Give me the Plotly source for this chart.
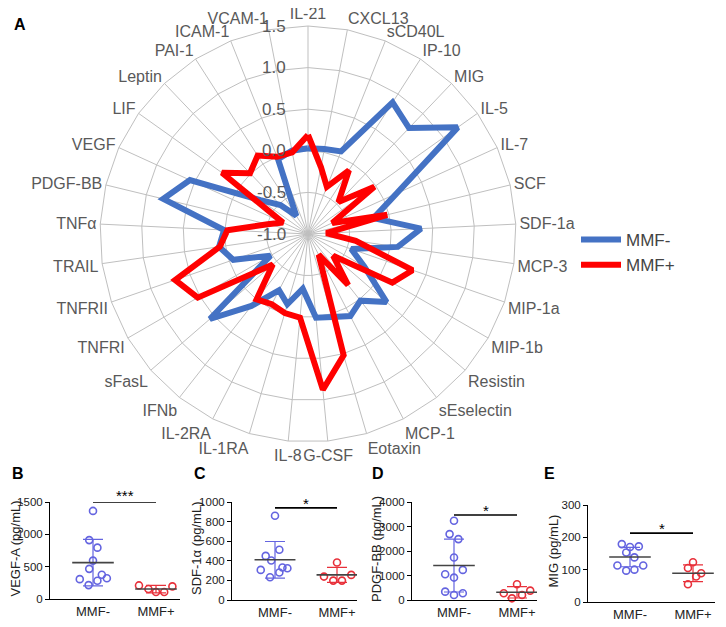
import plotly.graph_objects as go

# ---------------- data ----------------
cytokines = ["IL-21", "CXCL13", "sCD40L", "IP-10", "MIG", "IL-5", "IL-7", "SCF",
             "SDF-1a", "MCP-3", "MIP-1a", "MIP-1b", "Resistin", "sEselectin",
             "MCP-1", "Eotaxin", "G-CSF", "IL-8", "IL-1RA", "IL-2RA", "IFNb",
             "sFasL", "TNFRI", "TNFRII", "TRAIL", "TNFα", "PDGF-BB", "VEGF",
             "LIF", "Leptin", "PAI-1", "ICAM-1", "VCAM-1"]
radar_mmf_minus = [0.03, 0.04, 0.07, 0.88, 0.76, 1.21, 0.17, -0.19, 0.36, 0.09,
                   -0.45, -0.22, 0.25, 0.02, 0.11, 0.04, 0.01, -0.34, -0.12,
                   -0.24, 0.10, 0.56, -0.48, -0.05, 0.08, 0.01, 0.79, 0.56,
                   -0.30, -0.52, -0.74, -0.03, 0.02]
radar_mmf_plus = [0.19, -0.18, -0.39, -0.09, -0.47, -0.02, -0.68, -0.02, -0.78,
                  -0.42, 0.33, 0.17, -0.60, -0.22, -0.72, 0.52, 0.88, 0.01,
                  -0.01, -0.05, 0.00, -0.44, 0.53, 0.69, 0.07, -0.03, -0.50,
                  -0.67, 0.27, 0.01, 0.12, 0.00, 0.00]
radial_range = [-1.0, 1.5]
radial_ticks = [-1.0, -0.5, 0.0, 0.5, 1.0, 1.5]
radial_tick_labels = ["-1.0", "-0.5", "0.0", "0.5", "1.0", "1.5"]

groups = ["MMF-", "MMF+"]

vegf_minus = [1362, 911, 794, 594, 466, 374, 322, 307, 282, 215]
vegf_plus = [210, 154, 108, 108, 195]
vegf_mean = [563, 154]
vegf_sd = [360, 58]

sdf_minus = [860, 512, 450, 403, 331, 324, 307, 280, 232]
sdf_plus = [382, 239, 198, 198, 256]
sdf_mean = [410, 256]
sdf_sd = [187, 76]

pdgf_minus = [3235, 2690, 2485, 1734, 1229, 1051, 915, 341, 205, 273]
pdgf_plus = [642, 273, 382, 205, 68]
pdgf_mean = [1406, 314]
pdgf_sd = [1080, 232]

mig_minus = [179, 170, 172, 153, 138, 113, 113, 97, 100]
mig_plus = [123, 105, 89, 79, 55]
mig_mean = [139, 89]
mig_sd = [30, 26]

# ---------------- styling / layout helpers ----------------
PAGE_W, PAGE_H = 726, 627
OFF = 8                      # default page margin around the plot div
W, H = PAGE_W - OFF, PAGE_H - OFF
FONT = "Arial, Liberation Sans, sans-serif"
BLUE = "#4472C4"
RED = "#FF0000"
DOT_BLUE = "#6464E0"
DOT_RED = "#E8303A"


def fx(px):  # page pixel x -> paper fraction
    return (px - OFF) / W


def fy(py):  # page pixel y -> paper fraction
    return 1 - (py - OFF) / H


# horizontal jitter of the dots
jit_vegf = ([0.0, -0.06, 0.07, 0.0, -0.06, 0.14, 0.22, -0.21, 0.07, -0.07],
            [-0.27, -0.12, 0.0, 0.13, 0.26])
jit_sdf = ([0.0, 0.07, -0.15, -0.06, 0.12, 0.2, -0.23, 0.07, -0.08],
           [0.0, -0.21, -0.06, 0.08, 0.23])
jit_pdgf = ([0.0, -0.07, 0.07, 0.0, 0.14, -0.14, 0.0, -0.14, 0.0, 0.14],
            [0.0, -0.21, 0.21, 0.08, -0.08])
jit_mig = ([-0.13, 0.0, 0.14, -0.06, 0.07, -0.2, 0.21, -0.06, 0.07],
           [0.0, -0.08, 0.13, 0.05, -0.08])

fig = go.Figure()

# ---------------- radar (panel A) ----------------
theta_closed = cytokines + [cytokines[0]]
fig.add_trace(go.Scatterpolar(
    r=radar_mmf_minus + [radar_mmf_minus[0]], theta=theta_closed,
    mode="lines", name="MMF-", line=dict(color=BLUE, width=6),
    subplot="polar"))
fig.add_trace(go.Scatterpolar(
    r=radar_mmf_plus + [radar_mmf_plus[0]], theta=theta_closed,
    mode="lines", name="MMF+", line=dict(color=RED, width=6),
    subplot="polar"))

cx, cy, R = 308, 234, 208
fig.update_layout(polar=dict(
    domain=dict(x=[fx(cx - R), fx(cx + R)], y=[fy(cy + R), fy(cy - R)]),
    gridshape="linear",
    bgcolor="white",
    radialaxis=dict(range=radial_range, tickvals=radial_ticks,
                    showticklabels=False, angle=90,
                    showline=False, ticks="",
                    gridcolor="#BFBFBF", gridwidth=1),
    angularaxis=dict(direction="clockwise", rotation=90, type="category",
                     categoryarray=cytokines,
                     gridcolor="#BFBFBF", gridwidth=1, showline=True,
                     linecolor="#BFBFBF", linewidth=1, ticks="",
                     tickfont=dict(size=16, color="#595959", family=FONT)),
))

annotations = [dict(text="<b>A</b>", x=fx(20), y=fy(25), xref="paper", yref="paper",
                    xanchor="center", yanchor="middle",
                    showarrow=False, font=dict(size=16, family=FONT, color="black"))]

# radial tick labels, left of the vertical axis, centred on each ring
span = radial_range[1] - radial_range[0]
for v, lab in zip(radial_ticks, radial_tick_labels):
    ring_y = cy - (v - radial_range[0]) / span * R
    annotations.append(dict(text=lab, x=fx(cx - 20), y=fy(ring_y), xref="paper",
                            yref="paper", xanchor="right", yanchor="middle",
                            showarrow=False,
                            font=dict(size=17, color="#595959", family=FONT)))

# ---------------- scatter panels B-E ----------------
panels = [
    dict(minus=vegf_minus, plus=vegf_plus, mean=vegf_mean, sd=vegf_sd, jit=jit_vegf,
         title="VEGF-A (pg/mL)", yrange=[0, 1500], dtick=500, sig=1500, stars="***",
         px=(50, 180), cxs=(93, 156), py=(599, 502), letter="B", lx=18,
         tx=15, star_y=495),
    dict(minus=sdf_minus, plus=sdf_plus, mean=sdf_mean, sd=sdf_sd, jit=jit_sdf,
         title="SDF-1α (pg/mL)", yrange=[0, 1000], dtick=200, sig=940, stars="*",
         px=(232, 357), cxs=(275, 337), py=(600, 502), letter="C", lx=200,
         tx=196, star_y=503),
    dict(minus=pdgf_minus, plus=pdgf_plus, mean=pdgf_mean, sd=pdgf_sd, jit=jit_pdgf,
         title="PDGF-BB (pg/mL)", yrange=[0, 4000], dtick=1000, sig=3470, stars="*",
         px=(412, 537), cxs=(454, 517), py=(600, 502), letter="D", lx=378,
         tx=376, star_y=510),
    dict(minus=mig_minus, plus=mig_plus, mean=mig_mean, sd=mig_sd, jit=jit_mig,
         title="MIG (pg/mL)", yrange=[0, 300], dtick=100, sig=213, stars="*",
         px=(588, 715), cxs=(630, 693), py=(602, 505), letter="E", lx=549,
         tx=553, star_y=528),
]

for i, p in enumerate(panels):
    k = i + 2
    xa, ya = f"x{k}", f"y{k}"
    x0px, x1px = p["px"]
    c0, c1 = p["cxs"]
    unit = (c1 - c0)
    xr = [(x0px - c0) / unit, (x1px - c0) / unit]
    ybot, ytop = p["py"]
    fig.update_layout(**{
        f"xaxis{k}": dict(domain=[fx(x0px), fx(x1px)], range=xr, anchor=ya,
                          tickvals=[0, 1], ticktext=groups, showline=True,
                          linecolor="black", linewidth=1, ticks="", showgrid=False,
                          zeroline=False, tickfont=dict(size=13, family=FONT, color="#222")),
        f"yaxis{k}": dict(domain=[fy(ybot), fy(ytop)], range=p["yrange"],
                          anchor=xa, dtick=p["dtick"], showline=True, linecolor="black",
                          linewidth=1, ticks="outside", ticklen=4, tickcolor="black",
                          showgrid=False, zeroline=False,
                          tickfont=dict(size=11.5, family=FONT, color="#222")),
    })
    for g, (vals, col) in enumerate([(p["minus"], DOT_BLUE), (p["plus"], DOT_RED)]):
        fig.add_trace(go.Scatter(
            x=[g + j for j in p["jit"][g]], y=vals, mode="markers", xaxis=xa, yaxis=ya,
            marker=dict(symbol="circle-open", size=7, color=col, line=dict(width=1.6, color=col)),
            showlegend=False, cliponaxis=False))
        # SD bar
        fig.add_trace(go.Scatter(
            x=[g], y=[p["mean"][g]], mode="markers", xaxis=xa, yaxis=ya,
            marker=dict(size=1, color="rgba(0,0,0,0)"),
            error_y=dict(type="data", array=[p["sd"][g]], visible=True, color=col,
                         thickness=1.2, width=10),
            showlegend=False))
        # mean line
        fig.add_trace(go.Scatter(
            x=[g - 0.33, g + 0.33], y=[p["mean"][g]] * 2, mode="lines", xaxis=xa, yaxis=ya,
            line=dict(color="#444444", width=1.6), showlegend=False))
    # significance bar
    fig.add_trace(go.Scatter(
        x=[0, 1], y=[p["sig"]] * 2, mode="lines", xaxis=xa, yaxis=ya,
        line=dict(color="black", width=1.6), showlegend=False, cliponaxis=False))
    annotations.append(dict(text=p["stars"], x=0.5, xref=xa, y=fy(p["star_y"]),
                            yref="paper", showarrow=False, yanchor="middle",
                            font=dict(size=15, family=FONT, color="black")))
    annotations.append(dict(text=f"<b>{p['letter']}</b>", x=fx(p["lx"]), y=fy(473),
                            xref="paper", yref="paper", showarrow=False,
                            xanchor="center", yanchor="middle",
                            font=dict(size=16, family=FONT, color="black")))
    annotations.append(dict(text=p["title"], textangle=-90, x=fx(p["tx"]),
                            y=fy((ybot + ytop) / 2 - 2), xref="paper", yref="paper",
                            xanchor="center", yanchor="middle",
                            showarrow=False, font=dict(size=13, family=FONT, color="#222")))

fig.update_layout(
    width=W, height=H, margin=dict(l=0, r=0, t=0, b=0, autoexpand=False),
    paper_bgcolor="white", plot_bgcolor="white",
    font=dict(family=FONT),
    annotations=annotations,
    legend=dict(x=fx(576), y=fy(222), xanchor="left", yanchor="top",
                font=dict(size=17, family=FONT, color="#444"), tracegroupgap=0,
                itemwidth=40, bgcolor="rgba(0,0,0,0)"),
)

fig.write_html("out.html")
